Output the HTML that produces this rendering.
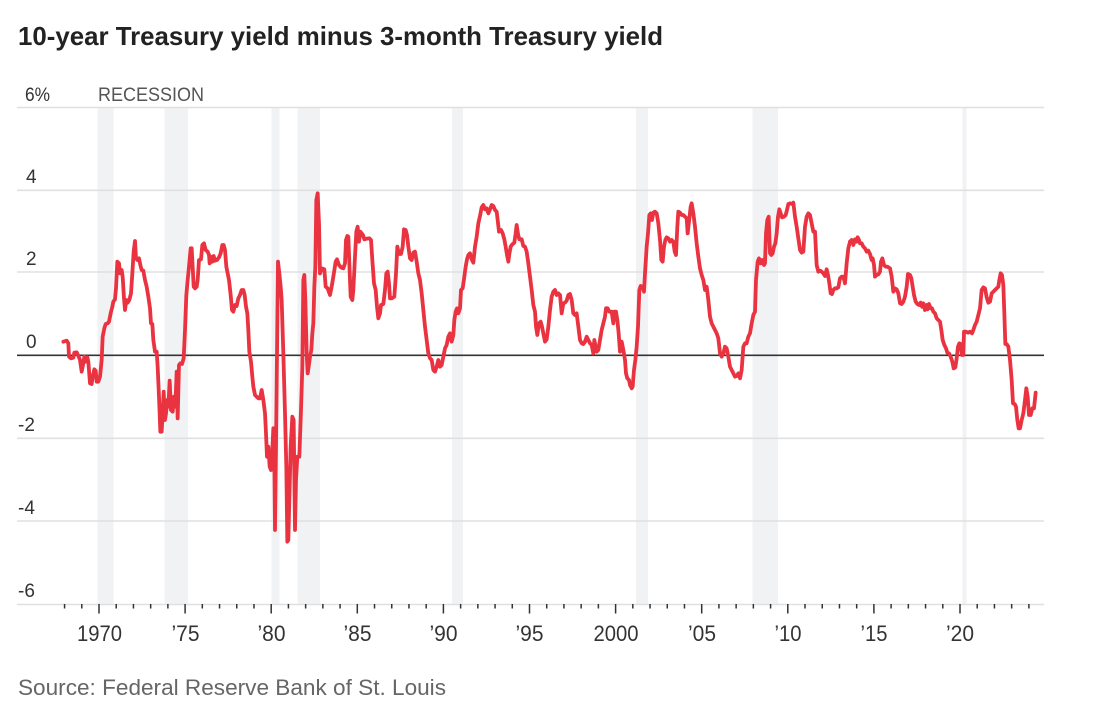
<!DOCTYPE html>
<html>
<head>
<meta charset="utf-8">
<style>
  html, body { margin: 0; padding: 0; background: #fff; }
  body { width: 1098px; height: 723px; overflow: hidden; }
  svg { display: block; }
  text { font-family: "Liberation Sans", "DejaVu Sans", sans-serif; }
</style>
</head>
<body>
<svg width="1098" height="723" viewBox="0 0 1098 723" xmlns="http://www.w3.org/2000/svg">
  <rect width="1098" height="723" fill="#ffffff"/>

  <!-- Title -->
  <text x="18" y="45" font-size="26" font-weight="bold" fill="#222" textLength="645" lengthAdjust="spacingAndGlyphs">10-year Treasury yield minus 3-month Treasury yield</text>

  <!-- Recession bands -->
  <g fill="#f1f2f4">
    <rect x="97.5" y="108" width="16" height="496"/>
    <rect x="164.5" y="108" width="23.5" height="496"/>
    <rect x="271.5" y="108" width="8" height="496"/>
    <rect x="297.5" y="108" width="22.5" height="496"/>
    <rect x="452" y="108" width="11" height="496"/>
    <rect x="636" y="108" width="12" height="496"/>
    <rect x="752.5" y="108" width="25.5" height="496"/>
    <rect x="962.5" y="108" width="4" height="496"/>
  </g>

  <!-- Gridlines -->
  <g stroke="#e0e0e0" stroke-width="1.6">
    <line x1="17" y1="107.5" x2="1044" y2="107.5"/>
    <line x1="17" y1="190.3" x2="1044" y2="190.3"/>
    <line x1="17" y1="272" x2="1044" y2="272"/>
    <line x1="17" y1="438.3" x2="1044" y2="438.3"/>
    <line x1="17" y1="521" x2="1044" y2="521"/>
    <line x1="17" y1="604.5" x2="1044" y2="604.5"/>
  </g>
  <line x1="17" y1="355.3" x2="1044" y2="355.3" stroke="#333" stroke-width="1.6"/>

  <!-- Y labels -->
  <g font-size="19" fill="#333">
    <text x="25" y="101" textLength="25" lengthAdjust="spacingAndGlyphs">6%</text>
    <text x="26" y="183">4</text>
    <text x="26" y="265">2</text>
    <text x="26" y="348">0</text>
    <text x="18" y="431">-2</text>
    <text x="18" y="514">-4</text>
    <text x="18" y="597">-6</text>
  </g>
  <text x="98" y="101" font-size="19" fill="#555" textLength="106" lengthAdjust="spacingAndGlyphs">RECESSION</text>

  <!-- X ticks -->
  <path stroke="#333" stroke-width="1.5" fill="none" d="
    M64.56,604 v4.5 M81.78,604 v4.5 M116.22,604 v4.5 M133.44,604 v4.5 M150.66,604 v4.5 M167.88,604 v4.5
    M202.32,604 v4.5 M219.54,604 v4.5 M236.76,604 v4.5 M253.98,604 v4.5
    M288.42,604 v4.5 M305.64,604 v4.5 M322.86,604 v4.5 M340.08,604 v4.5
    M374.52,604 v4.5 M391.74,604 v4.5 M408.96,604 v4.5 M426.18,604 v4.5
    M460.62,604 v4.5 M477.84,604 v4.5 M495.06,604 v4.5 M512.28,604 v4.5
    M546.72,604 v4.5 M563.94,604 v4.5 M581.16,604 v4.5 M598.38,604 v4.5
    M632.82,604 v4.5 M650.04,604 v4.5 M667.26,604 v4.5 M684.48,604 v4.5
    M718.92,604 v4.5 M736.14,604 v4.5 M753.36,604 v4.5 M770.58,604 v4.5
    M805.02,604 v4.5 M822.24,604 v4.5 M839.46,604 v4.5 M856.68,604 v4.5
    M891.12,604 v4.5 M908.34,604 v4.5 M925.56,604 v4.5 M942.78,604 v4.5
    M977.22,604 v4.5 M994.44,604 v4.5 M1011.66,604 v4.5 M1028.88,604 v4.5
    M99,604 v9.5 M185.1,604 v9.5 M271.2,604 v9.5 M357.3,604 v9.5 M443.4,604 v9.5 M529.5,604 v9.5
    M615.6,604 v9.5 M701.7,604 v9.5 M787.8,604 v9.5 M873.9,604 v9.5 M960,604 v9.5"/>

  <!-- X labels -->
  <g font-size="22" fill="#333" text-anchor="middle">
    <text x="99.5" y="641" textLength="45" lengthAdjust="spacingAndGlyphs">1970</text>
    <text x="185.5" y="641" textLength="28" lengthAdjust="spacingAndGlyphs">’75</text>
    <text x="271.5" y="641" textLength="28" lengthAdjust="spacingAndGlyphs">’80</text>
    <text x="357.5" y="641" textLength="28" lengthAdjust="spacingAndGlyphs">’85</text>
    <text x="443.5" y="641" textLength="28" lengthAdjust="spacingAndGlyphs">’90</text>
    <text x="529.5" y="641" textLength="28" lengthAdjust="spacingAndGlyphs">’95</text>
    <text x="616" y="641" textLength="45" lengthAdjust="spacingAndGlyphs">2000</text>
    <text x="702" y="641" textLength="28" lengthAdjust="spacingAndGlyphs">’05</text>
    <text x="788" y="641" textLength="27" lengthAdjust="spacingAndGlyphs">’10</text>
    <text x="874" y="641" textLength="27" lengthAdjust="spacingAndGlyphs">’15</text>
    <text x="960" y="641" textLength="28" lengthAdjust="spacingAndGlyphs">’20</text>
  </g>

  <!-- Series -->
  <g fill="none" stroke="#ea3340" stroke-width="3.8" stroke-linejoin="round" stroke-linecap="round">
    <path vector-effect="non-scaling-stroke" transform="translate(55,180) scale(0.333333)" d="M25,485 L35,482 40,490 42,530 48,535 55,533 58,518 65,517 70,527 75,540 80,575 85,550 88,530 92,545 97,532 100,545 105,610 110,612 113,590 118,568 122,572 125,605 130,605 135,590 140,540 143,470 148,445 152,432 158,430 162,425 167,400 172,380 175,365 180,358 183,325 187,245 192,250 195,280 200,270 203,290 207,355 210,390 214,360 218,368 223,360 228,340 232,280 236,215 240,183 243,235 247,240 252,235 256,255 260,270 265,272 270,300 275,320 280,350 285,385 288,430 292,432 295,480 300,515 305,515 308,560 312,650 316,755 320,755 323,700 326,635 330,720 333,700 337,660 340,680 344,602 348,690 353,695 357,650 361,680 365,575 368,715 372,555 376,550 381,552 386,535 390,450 394,345 398,300 402,260 407,205 410,205 413,260 416,320 420,325 425,320 428,300 432,240 438,238 442,195 447,190 452,210 458,215 462,225 464,250 467,230 472,245 476,228 480,242 486,240 492,232 497,220 502,195 506,195 510,210 514,260 518,280 522,300 527,345 531,390 535,395 540,375 545,378 550,355 555,345 560,330 565,330 569,345 573,380 577,400 580,450 583,515 588,545 592,590 595,620 600,645 605,650 610,655 615,655 620,630 625,660 630,700 633,760 636,830 640,800 644,860 648,870 652,810 655,745 658,830 660,1050 663,800 666,520 669,245 673,280 677,320 680,360 685,520 690,700 694,860 697,1085 700,1080 704,920 707,800 712,710 716,720 720,1050 723,900 727,830 733,830 738,690 742,560 745,300 748,285 751,360 755,520 758,580 761,560 765,530 769,510 772,460 775,430 778,320 781,260 784,60 788,40 792,130 795,280"/>
    <path vector-effect="non-scaling-stroke" transform="translate(315,180) scale(0.333333)" d="M15,280 L20,265 28,268 32,320 38,325 45,345 50,320 55,290 62,245 66,238 72,255 78,262 85,265 90,250 93,180 97,168 100,170 103,250 107,350 112,360 115,330 120,230 124,155 128,140 132,185 136,155 140,160 144,165 148,178 155,176 163,175 168,180 172,240 177,310 182,330 186,380 190,415 195,400 198,375 205,372 210,330 214,280 218,275 222,310 225,355 230,355 238,350 243,280 247,200 252,222 258,222 263,200 267,148 272,150 276,165 280,200 285,235 290,240 295,218 300,215 305,245 310,280 315,300 320,340 325,390 330,440 335,480 340,520 345,535 350,540 355,570 360,575 365,560 370,540 375,560 380,555 385,530 390,505 395,495 400,470 405,460 410,485 415,465 418,420 422,395 426,385 430,400 435,385 438,330 443,325 448,290 452,260 456,238 460,225 465,220 470,238 475,248 480,200 485,170 490,130 495,108 500,82 505,75 510,88 515,85 520,100 525,88 530,75 535,78 540,90 545,95 548,120 552,155 558,150 563,160 568,178 572,200 576,225 580,245 583,222 587,200 592,193 598,188 602,160 605,135 609,162 613,178 620,178 625,198 630,200 635,215 640,250 645,290 650,330 655,375 660,395 663,440 667,465 672,430 677,425 681,440 685,460 690,485 695,478 700,440 705,390 710,350 715,335 720,330 725,345 730,340 735,345 740,400 745,370 750,368 755,362 760,345 765,342 770,360 775,400 780,405 785,400 790,440 795,480 800,490 805,492 810,485"/>
    <path vector-effect="non-scaling-stroke" transform="translate(580,180) scale(0.333333)" d="M15,485 L20,470 25,480 30,490 35,495 40,520 43,480 47,500 50,515 55,510 60,480 65,450 70,430 75,410 78,385 83,385 88,395 95,395 100,430 103,395 108,395 112,420 116,460 120,515 125,485 130,510 135,540 138,580 142,595 147,600 150,615 155,625 158,620 162,570 166,540 170,500 174,440 178,330 182,318 187,320 192,335 195,280 200,200 204,160 208,105 212,100 216,120 220,98 225,95 230,100 235,130 240,180 244,240 248,245 252,200 256,180 260,172 265,175 270,185 275,180 280,185 284,215 288,225 292,140 295,95 300,98 305,105 310,105 315,110 320,115 323,160 327,125 332,80 335,70 340,100 345,140 350,190 355,230 360,265 365,285 370,300 375,330 380,320 385,360 390,410 395,430 400,440 405,450 410,460 415,475 420,520 425,530 430,520 435,500 440,505 445,530 450,560 455,570 460,580 465,590 470,588 475,580 480,595 485,570 490,500 495,490 500,490 505,470 510,460 515,430 520,405 525,395 528,300 533,245 537,235 542,250 547,240 552,255 555,250 558,160 562,120 566,110 570,220 574,225 578,220 582,200 586,190 590,160 594,110 598,88 602,100 606,112 612,110 617,105 621,90 625,72 630,70 636,72 640,68 645,110 650,140 655,175 660,210 665,218 670,215 675,140 680,110 685,100 690,105 695,130 700,155 705,155 710,255 715,275 720,272 725,275 730,280 735,288 740,268 744,285 748,310 752,340 756,342 760,330 765,325 770,325 775,322 780,295 785,290 790,290 795,310 800,250 805,205 810,185"/>
    <path vector-effect="non-scaling-stroke" transform="translate(840,180) scale(0.333333)" d="M30,185 L35,180 40,195 45,178 50,185 53,172 57,180 60,190 65,190 70,200 75,205 80,215 85,212 90,222 95,240 98,235 102,255 105,290 110,285 115,283 120,275 123,245 127,235 132,255 137,260 142,260 150,265 155,290 160,335 165,325 170,328 175,340 180,370 185,372 190,365 195,350 200,320 204,282 210,285 214,295 218,320 222,345 227,365 232,372 237,375 242,368 246,380 250,370 255,390 260,375 263,388 267,372 272,385 276,385 280,395 285,400 290,415 295,420 300,425 304,450 308,480 313,495 318,505 322,518 327,520 332,530 337,545 341,565 346,562 350,535 354,500 358,490 362,492 366,525 370,525 372,455 378,455 384,458 390,455 396,460 400,450 405,435 410,425 415,405 420,385 425,330 430,322 435,325 440,352 445,368 450,365 455,340 460,335 465,330 470,325 475,320 478,300 482,280 486,285 490,315 493,400 496,492 500,492 505,500 510,540 515,600 519,670 524,672 528,680 532,720 536,745 540,745 545,720 550,700 555,660 559,625 563,650 567,705 572,705 577,685 582,685 587,638"/>
  </g>

  <!-- Source -->
  <text x="18" y="695" font-size="22" fill="#666" textLength="428" lengthAdjust="spacingAndGlyphs">Source: Federal Reserve Bank of St. Louis</text>
</svg>
</body>
</html>
